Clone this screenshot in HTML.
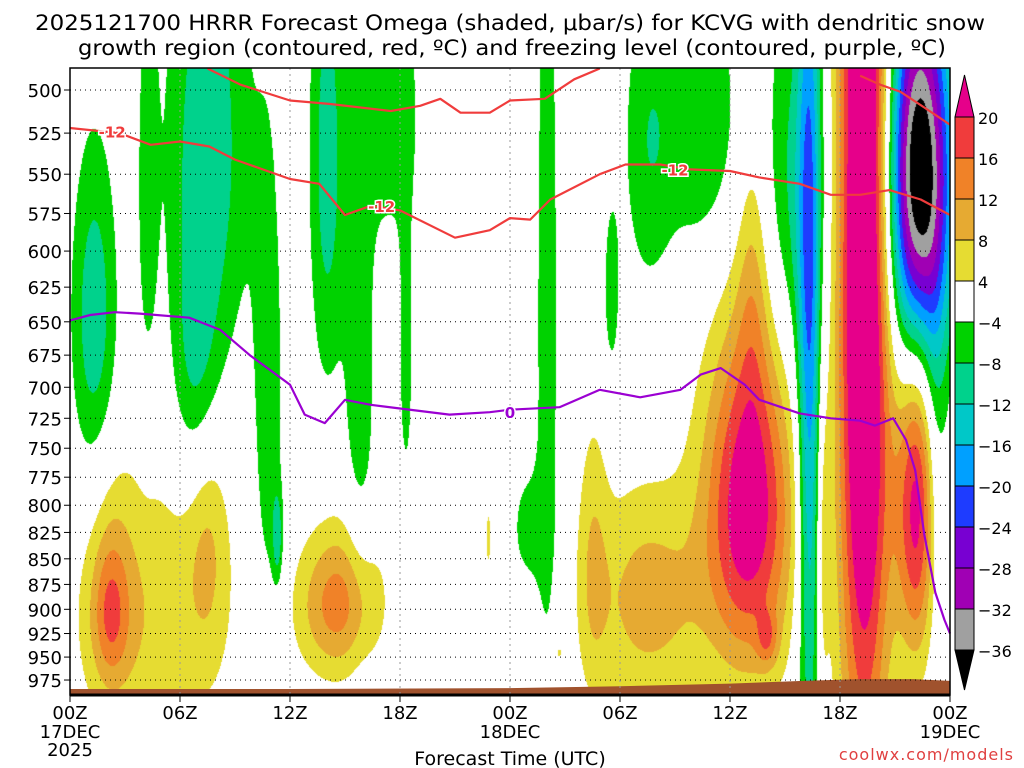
<!DOCTYPE html>
<html><head><meta charset="utf-8">
<style>
html,body{margin:0;padding:0;background:#fff;}
#wrap{position:relative;width:1024px;height:768px;overflow:hidden;font-family:"DejaVu Sans","Liberation Sans",sans-serif;}
canvas{position:absolute;left:0;top:0;}
svg{position:absolute;left:0;top:0;font-family:"DejaVu Sans","Liberation Sans",sans-serif;}
</style></head><body>
<div id="wrap">
<canvas id="cv" width="1024" height="768"></canvas>
<svg id="sv" width="1024" height="768"></svg>
</div>
<script>
// ---- data ----
const pressureTicks=[500,525,550,575,600,625,650,675,700,725,750,775,800,825,850,875,900,925,950,975];
const timeTickHours=[0,6,12,18,24,30,36,42,48];
const timeTickLabels=["00Z","06Z","12Z","18Z","00Z","06Z","12Z","18Z","00Z"];
const colorLevels=[-36,-32,-28,-24,-20,-16,-12,-8,-4,4,8,12,16,20];
const colorFills=["#000000","#a0a0a0","#a000b4","#7800d2","#1e3cff","#00a0ff","#00c8c8","#00d28c","#00d200","#ffffff","#e6dc32","#e6aa32","#f08228","#f03c3c","#e6008a"];
// omega features: hour, pressure, hour spread, pressure spread, peak (µbar/s)
const featHour =[4.5,2.2,7.5,2.2,2.2,14.5,15,26.5,22.8, 37,37.2,31.5,28.5,38,41,43.3,46.2,
                 1.3,4.2,7.5,6.8,10.8,11.3,14,15.8,17.5,18.3,26,25,29.5,31.5,34.5,39.5,40.3,46.3,47.2];
const featPres =[900,850,830,910,905,900,870,945,830, 800,620,890,850,930,840,600,800,
                 650,560,530,690,720,830,540,700,510,680,650,820,630,530,520,560,700,550,760];
const featSH   =[3.0,0.8,0.8,0.9,0.5,1.6,1.5,0.4,0.15, 1.7,0.6,2.2,0.6,0.4,0.25,1.0,0.8,
                 0.9,0.4,1.6,0.9,0.6,0.2,0.7,0.6,1.2,0.3,0.45,0.7,0.35,1.0,1.5,1.2,0.45,1.2,0.5];
const featSP   =[110,80,80,55,40,50,60,12,30, 110,80,80,100,20,130,330,100,
                 90,100,110,70,150,30,110,140,60,80,250,40,50,70,60,90,250,85,120];
const featVal  =[7,4,6,7,3,10,5,5,5, 24,6,10,6,8,6,32,22,
                 -11,-6,-11,-7,-7,-9,-10,-7,-7,-6,-7,-6,-6,-7,-8,-9,-19,-42,-8];
// -12 C contours
const dgzLowHour=[0,2.7,4.4,6,7.6,9,12,13.6,15,16.4,18,21,22.9,24,25.1,26.2,28.9,30.3,32.2,33.8,36,37.6,39.8,41.5,43.1,44.7,46.4,48];
const dgzLowPres=[522,525,532,530,533,541,553,556,576,570,573,591,586,578,579,566,550,544,544,547,548,552,556,563,563,560,566,576];
const dgzUpAHour=[7.5,9.3,12,14.2,17.5,19.1,20.2,21.3,22.9,24,25.9,27.5,28.9];
const dgzUpAPres=[488,497,506,508,512,509,505,513,513,506,505,494,488];
const dgzUpBHour=[43.1,44.2,45.3,46.6,48];
const dgzUpBPres=[492,497,501,510,520];
// freezing level (0 C)
const frzHour=[0,1.1,2.45,3.8,6.5,8.2,9.8,12,12.8,13.9,15,16.4,18,20.7,22.9,24,26.7,28.9,31.1,33.3,34.4,35.5,36.8,37.6,39.8,41.5,43.1,43.9,44.9,45.6,46.1,46.6,47.2,47.7,48];
const frzPres=[649,645,643,644,647,656,675,698,722,729,710,714,717,722,720,718,716,702,708,702,690,685,698,710,721,725,727,731,725,743,769,827,883,911,925];
// surface
const sfcHour=[0,12,24,30,36,40,43,46,48];
const sfcPres=[985,985,984,982,979,976,974,974,976];

// ---- axes ----
const X0=70,X1=950,Y0=68,Y1=695;
const xS=h=>X0+(h/48)*(X1-X0);
const yS=p=>90+883.5*Math.log(p/500);
const hOf=x=>(x-X0)/(X1-X0)*48;
const pOf=y=>500*Math.exp((y-90)/883.5);

// ---- shading ----
const cv=document.getElementById('cv');const ctx=cv.getContext('2d');
function hex(c){return [parseInt(c.substr(1,2),16),parseInt(c.substr(3,2),16),parseInt(c.substr(5,2),16)];}
const rgb=colorFills.map(hex);
const img=ctx.createImageData(X1-X0,Y1-Y0);
for(let y=Y0;y<Y1;y++){const p=pOf(y);
 for(let x=X0;x<X1;x++){const h=hOf(x);let v=0;
  for(let i=0;i<featVal.length;i++){const dh=(h-featHour[i])/featSH[i],dp=(p-featPres[i])/featSP[i];const e=dh*dh+dp*dp;if(e<20)v+=featVal[i]*Math.exp(-e/2);}
  let k=0;while(k<colorLevels.length&&v>=colorLevels[k])k++;
  const c=rgb[k];const o=((y-Y0)*(X1-X0)+(x-X0))*4;img.data[o]=c[0];img.data[o+1]=c[1];img.data[o+2]=c[2];img.data[o+3]=255;}}
ctx.putImageData(img,X0,Y0);

// ---- svg overlay ----
const NS='http://www.w3.org/2000/svg';const sv=document.getElementById('sv');
function mk(t,a,parent){const e=document.createElementNS(NS,t);for(const k in a)e.setAttribute(k,a[k]);(parent||sv).appendChild(e);return e;}
// terrain
let d='M'+X0+','+Y1;sfcHour.forEach((h,i)=>{d+=' L'+xS(h).toFixed(1)+','+yS(sfcPres[i]).toFixed(1);});d+=' L'+X1+','+Y1+' Z';
const terr=mk('path',{d:d,fill:'#a0522d'});


// grid
pressureTicks.forEach(p=>{const g=mk('line',{x1:X0,x2:X1,y1:yS(p),y2:yS(p),stroke:'#000','stroke-width':1,'stroke-dasharray':'1,4'});

});
timeTickHours.forEach(h=>{if(h>0&&h<48){const g=mk('line',{x1:xS(h),x2:xS(h),y1:Y0,y2:Y1,stroke:'#999','stroke-width':1,'stroke-dasharray':'2,4'});

}});
// lines
function line(hs,ps,col,name){const pts=hs.map((h,i)=>xS(h).toFixed(1)+','+yS(ps[i]).toFixed(1)).join(' ');
const l=mk('polyline',{points:pts,fill:'none',stroke:col,'stroke-width':2.2,'stroke-linejoin':'round'});

}
line(dgzLowHour,dgzLowPres,'#f03c3c','dgz-minus12-lower');
line(dgzUpAHour,dgzUpAPres,'#f03c3c','dgz-upper-a');
line(dgzUpBHour,dgzUpBPres,'#f03c3c','dgz-upper-b');
line(frzHour,frzPres,'#9b00d2','freezing-level');
function clab(h,p,t,col){
const tx=mk('text',{x:xS(h),y:yS(p)+6,'text-anchor':'middle','font-size':15,'font-weight':'bold',fill:col,stroke:'#fff','stroke-width':3,'paint-order':'stroke'});tx.textContent=t;

}
clab(2.3,524,'-12','#f03c3c');clab(17,570,'-12','#f03c3c');clab(33,547,'-12','#f03c3c');clab(24,720,'0','#9b00d2');
// frame
const fr=mk('rect',{x:X0,y:Y0,width:X1-X0,height:Y1-Y0,fill:'none',stroke:'#000','stroke-width':1.5});


mk('line',{x1:X0,x2:X1,y1:Y1,y2:Y1,stroke:'#000','stroke-width':3});
// y labels
pressureTicks.forEach(p=>{mk('line',{x1:X0-6,x2:X0,y1:yS(p),y2:yS(p),stroke:'#000'});
const t=mk('text',{x:62,y:yS(p)+7,'text-anchor':'end','font-size':18,fill:'#000'});t.textContent=p;

});
// x labels
timeTickHours.forEach((h,i)=>{mk('line',{x1:xS(h),x2:xS(h),y1:Y1,y2:Y1+7,stroke:'#000'});
const t=mk('text',{x:xS(h),y:719,'text-anchor':'middle','font-size':18,fill:'#000'});t.textContent=timeTickLabels[i];

});
[[0,'17DEC',738],[0,'2025',756],[24,'18DEC',738],[48,'19DEC',738]].forEach(a=>{const t=mk('text',{x:xS(a[0]),y:a[2],'text-anchor':'middle','font-size':18,fill:'#000'});t.textContent=a[1];

});
const xt=mk('text',{x:510,y:765,'text-anchor':'middle','font-size':19,fill:'#000'});xt.textContent='Forecast Time (UTC)';


const cr=mk('text',{x:1014,y:760,'text-anchor':'end','font-size':16,fill:'#e04040','letter-spacing':'1'});cr.textContent='coolwx.com/models';


// title
const t1=mk('text',{x:35,y:30,'font-size':21,fill:'#000',textLength:950,lengthAdjust:'spacingAndGlyphs'});t1.textContent='2025121700 HRRR Forecast Omega (shaded, \u03bcbar/s) for KCVG with dendritic snow';


const t2=mk('text',{x:78,y:55,'font-size':21,fill:'#000',textLength:868,lengthAdjust:'spacingAndGlyphs'});t2.textContent='growth region (contoured, red, \u00baC) and freezing level (contoured, purple, \u00baC)';


// colorbar
const CBX=955,CBW=19,cbTop=117,cbStep=41;
const cb=mk('g',{});


mk('polygon',{points:`${CBX},${cbTop} ${CBX+CBW},${cbTop} ${CBX+CBW/2},75`,fill:colorFills[14],stroke:'#000'},cb);
for(let k=13;k>=1;k--){const y=cbTop+(13-k)*cbStep;
 mk('rect',{x:CBX,y:y,width:CBW,height:cbStep,fill:colorFills[k],stroke:'#000'},cb);}
const cbBot=cbTop+13*cbStep;
mk('polygon',{points:`${CBX},${cbBot} ${CBX+CBW},${cbBot} ${CBX+CBW/2},690`,fill:'#000',stroke:'#000'},cb);
colorLevels.forEach((v,i)=>{const y=cbTop+(13-i)*cbStep;const t=mk('text',{x:CBX+CBW+4,y:y+7,'font-size':16,fill:'#000'},cb);
t.textContent=(v<0?'\u2212'+(-v):v);

});
</script>
</body></html>
